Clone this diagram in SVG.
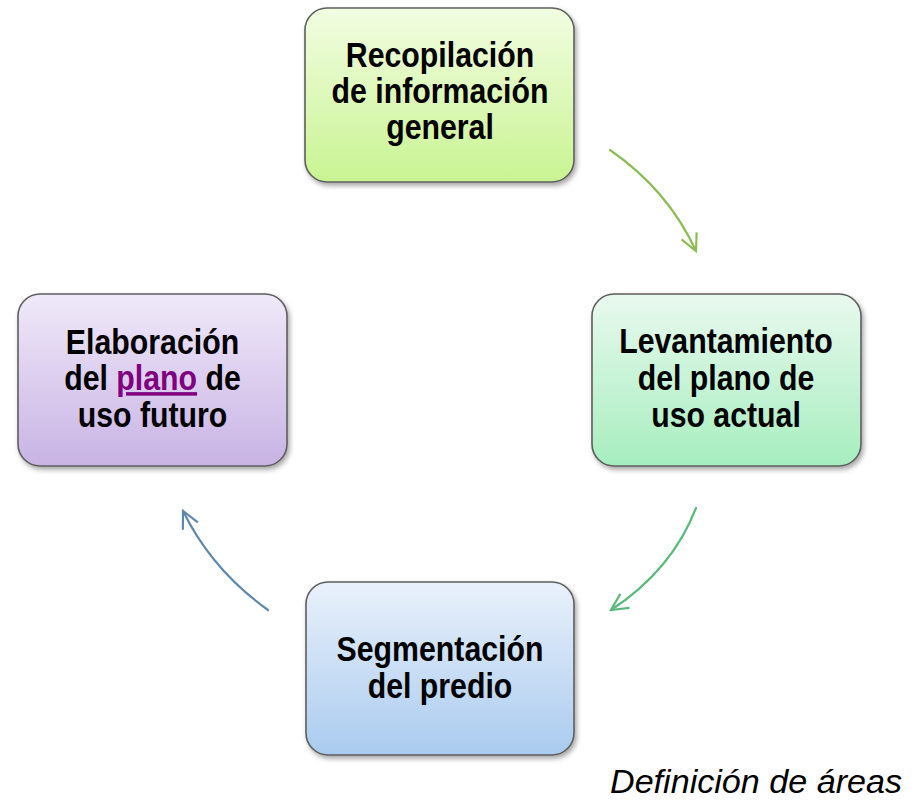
<svg xmlns="http://www.w3.org/2000/svg" width="915" height="803" viewBox="0 0 915 803">
<style>
.box{stroke:#5e5e5e;stroke-width:1.6;filter:url(#sh)}
.lbl{font-family:"Liberation Sans",Arial,sans-serif;font-weight:bold;font-size:35px;fill:#000;text-anchor:middle}
.conn{fill:none;stroke-width:2.2;stroke-linecap:round}
.note{font-family:"Liberation Sans",Arial,sans-serif;font-style:italic;font-size:33px;fill:#000}
</style>
<defs>
<filter id="sh" x="-10%" y="-10%" width="125%" height="125%">
<feDropShadow dx="2" dy="3" stdDeviation="2.5" flood-color="#000" flood-opacity="0.35"/>
</filter>
<linearGradient id="gTop" x1="0" y1="0" x2="0" y2="1"><stop offset="0" stop-color="#F2FDE2"/><stop offset="1" stop-color="#C9F492"/></linearGradient>
<linearGradient id="gRight" x1="0" y1="0" x2="0" y2="1"><stop offset="0" stop-color="#E9F9EF"/><stop offset="1" stop-color="#A6EEBE"/></linearGradient>
<linearGradient id="gBottom" x1="0" y1="0" x2="0" y2="1"><stop offset="0" stop-color="#E9F1FB"/><stop offset="1" stop-color="#AACBEF"/></linearGradient>
<linearGradient id="gLeft" x1="0" y1="0" x2="0" y2="1"><stop offset="0" stop-color="#F0E9F9"/><stop offset="1" stop-color="#C8B3E4"/></linearGradient>
<marker id="mG" viewBox="0 0 12 12" refX="11" refY="6" markerWidth="20" markerHeight="20" markerUnits="userSpaceOnUse" orient="auto">
<path d="M1,1 L11,6 L1,11" fill="none" stroke="#8DBB55" stroke-width="1.3"/>
</marker>
<marker id="mG2" viewBox="0 0 12 12" refX="11" refY="6" markerWidth="20" markerHeight="20" markerUnits="userSpaceOnUse" orient="auto">
<path d="M1,1 L11,6 L1,11" fill="none" stroke="#5CB97B" stroke-width="1.3"/>
</marker>
<marker id="mB" viewBox="0 0 12 12" refX="11" refY="6" markerWidth="20" markerHeight="20" markerUnits="userSpaceOnUse" orient="auto">
<path d="M1,1 L11,6 L1,11" fill="none" stroke="#5E89AE" stroke-width="1.3"/>
</marker>
</defs>
<rect width="915" height="803" fill="#ffffff"/>
<g id="connectors">
<path class="conn" d="M610,150 Q668,190 696,251" stroke="#8DBB55" marker-end="url(#mG)"/>
<path class="conn" d="M696,508 Q672,570 611,610" stroke="#5CB97B" marker-end="url(#mG2)"/>
<path class="conn" d="M268,610 Q212,570 183,511" stroke="#5E89AE" marker-end="url(#mB)"/>
</g>
<g id="node-recopilacion">
<rect class="box" x="305" y="8" width="269" height="174" rx="22" fill="url(#gTop)"/>
<g transform="translate(440,0) scale(0.865,1)">
<text class="lbl" x="0" y="67">Recopilación</text>
<text class="lbl" x="0" y="103">de información</text>
<text class="lbl" x="0" y="139">general</text>
</g>
</g>
<g id="node-levantamiento">
<rect class="box" x="592" y="294" width="269" height="172" rx="22" fill="url(#gRight)"/>
<g transform="translate(726,0) scale(0.865,1)">
<text class="lbl" x="0" y="353">Levantamiento</text>
<text class="lbl" x="0" y="390">del plano de</text>
<text class="lbl" x="0" y="427">uso actual</text>
</g>
</g>
<g id="node-segmentacion">
<rect class="box" x="306" y="582" width="268" height="173" rx="22" fill="url(#gBottom)"/>
<g transform="translate(440,0) scale(0.865,1)">
<text class="lbl" x="0" y="661">Segmentación</text>
<text class="lbl" x="0" y="698">del predio</text>
</g>
</g>
<g id="node-elaboracion">
<rect class="box" x="18" y="294" width="269" height="172" rx="22" fill="url(#gLeft)"/>
<g transform="translate(152.5,0) scale(0.865,1)">
<text class="lbl" x="0" y="354">Elaboración</text>
<text class="lbl" x="0" y="390">del <tspan fill="#800080" text-decoration="underline">plano</tspan> de</text>
<text class="lbl" x="0" y="427">uso futuro</text>
</g>
</g>
<text class="note" x="610" y="793" textLength="292" lengthAdjust="spacingAndGlyphs">Definición de áreas</text>
</svg>
